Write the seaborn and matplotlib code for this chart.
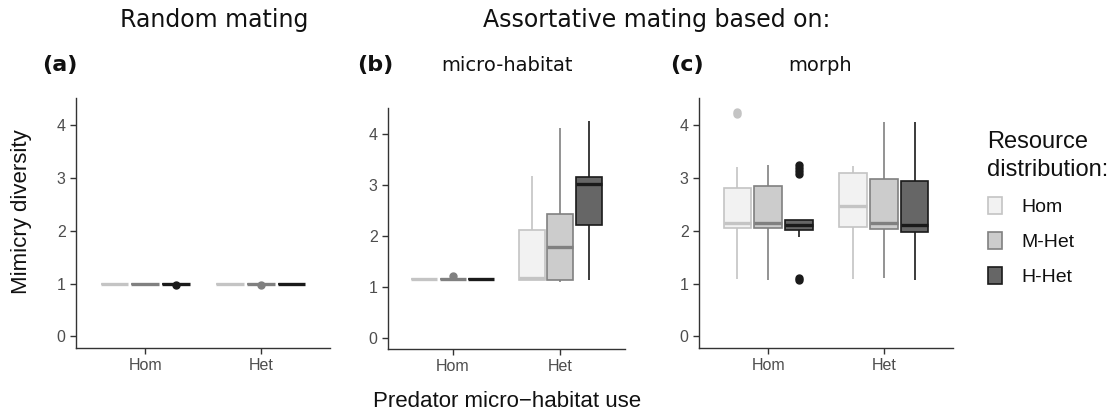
import numpy as np
import pandas as pd
import matplotlib
matplotlib.use("Agg")
import matplotlib.pyplot as plt
from matplotlib.patches import Patch
import seaborn as sns

# categories
pred_levels = ["Hom", "Het"]
dist_levels = ["Hom", "M-Het", "H-Het"]

# mimicry diversity per run, one list per resource distribution (Hom, M-Het, H-Het)
# (a) random mating
rand_hom = [
    [1.0, 1.0, 1.0, 1.0, 1.0, 1.0, 1.0, 1.0, 1.0],
    [1.0, 1.0, 1.0, 1.0, 1.0, 1.0, 1.0, 1.0, 1.0],
    [1.0, 1.0, 1.0, 1.0, 1.0, 1.0, 1.0, 1.0, 0.97],
]
rand_het = [
    [1.0, 1.0, 1.0, 1.0, 1.0, 1.0, 1.0, 1.0, 1.0],
    [1.0, 1.0, 1.0, 1.0, 1.0, 1.0, 1.0, 1.0, 0.97],
    [1.0, 1.0, 1.0, 1.0, 1.0, 1.0, 1.0, 1.0, 1.0],
]
# (b) assortative mating on micro-habitat
habitat_hom = [
    [1.15, 1.15, 1.15, 1.15, 1.15, 1.15, 1.15, 1.15, 1.15],
    [1.15, 1.15, 1.15, 1.15, 1.15, 1.15, 1.15, 1.15, 1.21],
    [1.15, 1.15, 1.15, 1.15, 1.15, 1.15, 1.15, 1.15, 1.15],
]
habitat_het = [
    [1.14, 1.14, 1.14, 1.15, 1.17, 1.60, 2.13, 2.70, 3.19],
    [1.09, 1.11, 1.13, 1.50, 1.79, 2.10, 2.44, 3.20, 4.13],
    [1.13, 1.80, 2.22, 2.70, 3.03, 3.10, 3.17, 3.60, 4.26],
]
# (c) assortative mating on morph
morph_hom = [
    [1.08, 1.60, 2.00, 2.06, 2.10, 2.12, 2.15, 2.40, 2.60, 2.81, 3.22, 4.21, 4.25],
    [1.06, 1.70, 2.05, 2.10, 2.15, 2.50, 2.86, 3.00, 3.25],
    [1.06, 1.10, 1.88, 1.95, 2.01, 2.05, 2.08, 2.10, 2.12, 2.15, 2.18, 2.20, 2.21,
     3.08, 3.14, 3.20, 3.25],
]
morph_het = [
    [1.08, 1.70, 2.07, 2.30, 2.48, 2.80, 3.10, 3.20, 3.24],
    [1.11, 1.70, 2.03, 2.10, 2.15, 2.50, 2.98, 3.50, 4.06],
    [1.07, 1.60, 1.98, 2.05, 2.12, 2.50, 2.94, 3.50, 4.06],
]

fill_colors = {"Hom": "#f2f2f2", "M-Het": "#cccccc", "H-Het": "#666666"}
edge_colors = {"Hom": "#c4c4c4", "M-Het": "#808080", "H-Het": "#1a1a1a"}


def to_long(hom_lists, het_lists):
    rows = []
    for pred, lists in zip(pred_levels, [hom_lists, het_lists]):
        for dist, vals in zip(dist_levels, lists):
            for v in vals:
                rows.append({"pred": pred, "dist": dist, "value": v})
    return pd.DataFrame(rows)


panels = [to_long(rand_hom, rand_het),
          to_long(habitat_hom, habitat_het),
          to_long(morph_hom, morph_het)]

sns.set_style("ticks")
plt.rcParams["font.family"] = ["Liberation Sans", "DejaVu Sans"]
plt.rcParams["text.color"] = "#111111"

W, H = 1117, 416
fig = plt.figure(figsize=(W / 100, H / 100), dpi=100)


def px_axes(left, top, right, bottom):
    return fig.add_axes([left / W, 1 - bottom / H, (right - left) / W, (bottom - top) / H])


axes = [px_axes(76, 98, 330, 348),
        px_axes(388, 108, 625, 349),
        px_axes(699, 98, 953, 348)]

for ax, df in zip(axes, panels):
    for lvl in dist_levels:
        sub = df[df["dist"] == lvl]
        sns.boxplot(data=sub, x="pred", y="value", hue="dist",
                    order=pred_levels, hue_order=dist_levels,
                    palette=fill_colors, linecolor=edge_colors[lvl],
                    dodge=True, width=0.8, gap=0.1, linewidth=1.2,
                    showcaps=False, fliersize=5,
                    flierprops=dict(marker="o", markerfacecolor=edge_colors[lvl],
                                    markeredgecolor=edge_colors[lvl]),
                    medianprops=dict(linewidth=2.4),
                    legend=False, ax=ax)
    ax.set_xlim(-0.6, 1.6)
    ax.set_ylim(-0.22, 4.52)
    ax.set_yticks([0, 1, 2, 3, 4])
    ax.set_xlabel("")
    ax.set_ylabel("")
    sns.despine(ax=ax)
    for s in ["left", "bottom"]:
        ax.spines[s].set_color("#333333")
        ax.spines[s].set_linewidth(1.0)
    ax.tick_params(axis="both", labelsize=11.5, colors="#333333", labelcolor="#4d4d4d",
                   length=4, width=1.0)


def ftext(x, y, s, **kw):
    fig.text(x / W, 1 - y / H, s, **kw)


# headers
ftext(214, 27, "Random mating", ha="center", va="baseline", fontsize=17, family="DejaVu Sans")
ftext(657, 27, "Assortative mating based on:", ha="center", va="baseline", fontsize=17,
      family="DejaVu Sans")
for x, lab in zip([42, 357, 670], ["(a)", "(b)", "(c)"]):
    ftext(x, 71, lab, ha="left", va="baseline", fontsize=16, fontweight="bold",
          family="DejaVu Sans")
ftext(507, 71, "micro-habitat", ha="center", va="baseline", fontsize=14, family="DejaVu Sans")
ftext(820, 71, "morph", ha="center", va="baseline", fontsize=14, family="DejaVu Sans")

# axis labels
ftext(507, 407, "Predator micro\u2212habitat use", ha="center", va="baseline", fontsize=16)
ftext(22, 212, "Mimicry diversity", ha="center", va="center", rotation=90, fontsize=16)

# legend
handles = [Patch(facecolor=fill_colors[d], edgecolor=edge_colors[d], linewidth=1.2)
           for d in dist_levels]
leg = fig.legend(handles, dist_levels, title="Resource\ndistribution:",
                 loc="upper left", bbox_to_anchor=(970 / W, 1 - 113 / H),
                 frameon=False, fontsize=14, title_fontsize=17,
                 handlelength=0.75, handleheight=1.0, labelspacing=0.8,
                 handletextpad=1.0, alignment="left")
leg.get_title().set_linespacing(1.4)

fig.savefig("out.png", dpi=100)
